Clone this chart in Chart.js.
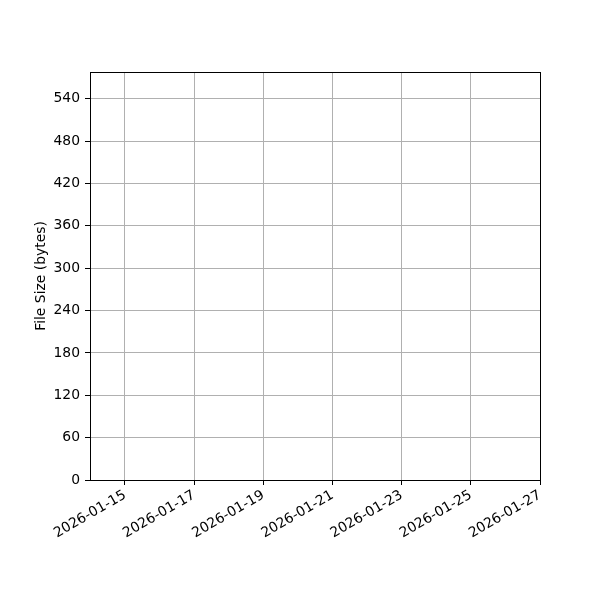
<!DOCTYPE html>
<html>
<head>
<meta charset="utf-8">
<script src="https://cdn.jsdelivr.net/npm/chart.js@4"></script>
<style>
  html, body { margin: 0; padding: 0; background: #fff; }
  #wrap { width: 600px; height: 600px; }
</style>
</head>
<body>
<div id="wrap"><canvas id="fileChart" width="600" height="600"></canvas></div>
<script>
// data (the plot has no points in it)
const fileDates = [];
const fileSizes = [];

// axes
const xStart = "2026-01-13T23:43:00Z";
const xEnd = "2026-01-27T00:00:00Z";
const xTickDates = ["2026-01-15", "2026-01-17", "2026-01-19", "2026-01-21", "2026-01-23", "2026-01-25", "2026-01-27"];
const yTicks = [0, 60, 120, 180, 240, 300, 360, 420, 480, 540];
const yMax = 578;

const DAY = 86400000;
const base = Date.parse("2026-01-15T00:00:00Z");
const toDay = (d) => (Date.parse(d.length > 10 ? d : d + "T00:00:00Z") - base) / DAY;

const points = fileDates.map((d, i) => ({ x: toDay(d), y: fileSizes[i] }));

const font = { family: "DejaVu Sans", size: 13.9 };

// box round the plot area, like matplotlib
const frame = {
  id: "frame",
  afterDraw(chart) {
    const { ctx, chartArea: a } = chart;
    ctx.save();
    ctx.strokeStyle = "#000";
    ctx.lineWidth = 1;
    ctx.strokeRect(a.left + 0.5, a.top + 0.5, a.right - a.left, a.bottom - a.top);
    ctx.restore();
  },
};

new Chart(document.getElementById("fileChart"), {
  type: "line",
  data: {
    datasets: [
      {
        label: "File Size",
        data: points,
        borderColor: "#1f77b4",
        backgroundColor: "#1f77b4",
      },
    ],
  },
  options: {
    responsive: false,
    animation: false,
    layout: { padding: { left: 0, top: 72, right: 60, bottom: 0 } },
    plugins: { legend: { display: false }, tooltip: { enabled: false } },
    scales: {
      x: {
        type: "linear",
        min: toDay(xStart),
        max: toDay(xEnd),
        afterBuildTicks: (s) => { s.ticks = xTickDates.map((d) => ({ value: toDay(d) })); },
        afterFit: (s) => { s.height = 120; },
        grid: { color: "#b0b0b0", lineWidth: 1, tickColor: "#000", tickLength: 5 },
        border: { color: "#000", width: 1 },
        ticks: {
          color: "#000",
          font,
          padding: 2,
          minRotation: 30,
          maxRotation: 30,
          autoSkip: false,
          callback: (v) => new Date(base + v * DAY).toISOString().slice(0, 10),
        },
      },
      y: {
        type: "linear",
        min: 0,
        max: yMax,
        afterBuildTicks: (s) => { s.ticks = yTicks.map((v) => ({ value: v })); },
        afterFit: (s) => { s.width = 90; },
        grid: { color: "#b0b0b0", lineWidth: 1, tickColor: "#000", tickLength: 5 },
        border: { color: "#000", width: 1 },
        ticks: { color: "#000", font, padding: 5 },
        title: {
          display: true,
          text: "File Size (bytes)",
          color: "#000",
          font,
          padding: { top: 33, bottom: 0 },
        },
      },
    },
  },
  plugins: [frame],
});
</script>
</body>
</html>
